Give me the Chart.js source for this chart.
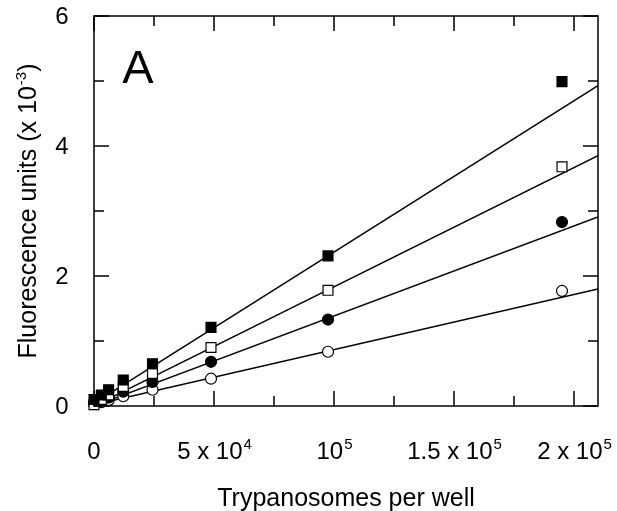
<!DOCTYPE html>
<html>
<head>
<meta charset="utf-8">
<script src="https://cdn.jsdelivr.net/npm/chart.js@4/dist/chart.umd.min.js"></script>
<style>
  html, body { margin: 0; padding: 0; background: #fff; }
  #wrap { width: 617px; height: 511px; }
</style>
</head>
<body>
<div id="wrap"><canvas id="c" width="617" height="511"></canvas></div>
<script>
// ---- data ----
const xValues      = [0, 3047, 6094, 12188, 24375, 48750, 97500, 195000];
const filledSquare = [0.10, 0.17, 0.25, 0.40, 0.65, 1.21, 2.31, 4.99];
const openSquare   = [0.02, 0.10, 0.17, 0.30, 0.50, 0.90, 1.78, 3.68];
const filledCircle = [0.05, 0.08, 0.13, 0.22, 0.37, 0.68, 1.33, 2.83];
const openCircle   = [0.03, 0.06, 0.09, 0.15, 0.25, 0.42, 0.835, 1.77];

// fitted lines (end points)
const lineX            = [0, 210000];
const filledSquareLine = [0.04, 4.93];
const openSquareLine   = [0.00, 3.85];
const filledCircleLine = [0.00, 2.91];
const openCircleLine   = [0.02, 1.80];

// axes
const xTickValues  = [0, 25000, 50000, 75000, 100000, 125000, 150000, 175000, 200000];
const xMajorValues = [0, 50000, 100000, 150000, 200000];
const xLabelBase   = ['0', '5 x 10', '10', '1.5 x 10', '2 x 10'];
const xLabelSup    = ['', '4', '5', '5', '5'];
const yTickValues  = [0, 1, 2, 3, 4, 5, 6];
const yLabelValues = [0, 2, 4, 6];

const FONT = "'Liberation Sans', Arial, sans-serif";

function pts(xs, ys) { return xs.map((x, i) => ({ x: x, y: ys[i] })); }

function pointSet(label, ys, style, fill) {
  return {
    label: label, data: pts(xValues, ys), showLine: false,
    pointStyle: style, pointRadius: style === 'rect' ? 7 : 5.5,
    pointBackgroundColor: fill, pointBorderColor: '#000', pointBorderWidth: 1.2,
    clip: false, order: 1
  };
}
function lineSet(label, ys) {
  return {
    label: label, data: pts(lineX, ys), showLine: true, pointRadius: 0,
    borderColor: '#000', borderWidth: 1.5, fill: false, order: 2
  };
}

const framePlugin = {
  id: 'frame',
  afterDatasetsDraw(chart) {
    const ctx = chart.ctx, a = chart.chartArea;
    const xs = chart.scales.x, ys = chart.scales.y;
    ctx.save();
    ctx.strokeStyle = '#000';
    ctx.lineWidth = 1.5;
    ctx.strokeRect(a.left, a.top, a.right - a.left, a.bottom - a.top);
    ctx.beginPath();
    xTickValues.forEach(v => {
      const px = xs.getPixelForValue(v);
      const len = xMajorValues.includes(v) ? 15 : 10;
      ctx.moveTo(px, a.bottom); ctx.lineTo(px, a.bottom - len);
      ctx.moveTo(px, a.top); ctx.lineTo(px, a.top + len);
    });
    yTickValues.forEach(v => {
      const py = ys.getPixelForValue(v);
      const len = yLabelValues.includes(v) ? 15 : 10;
      ctx.moveTo(a.left, py); ctx.lineTo(a.left + len, py);
      ctx.moveTo(a.right, py); ctx.lineTo(a.right - len, py);
    });
    ctx.stroke();

    ctx.fillStyle = '#000';

    // y tick labels
    ctx.font = '24px ' + FONT;
    ctx.textAlign = 'center';
    ctx.textBaseline = 'middle';
    yLabelValues.forEach(v => {
      ctx.fillText(String(v), 62, ys.getPixelForValue(v) + 1);
    });

    // x tick labels with superscripts
    ctx.textBaseline = 'alphabetic';
    ctx.textAlign = 'left';
    xMajorValues.forEach((v, i) => {
      const px = xs.getPixelForValue(v);
      ctx.font = '24px ' + FONT;
      const wb = ctx.measureText(xLabelBase[i]).width;
      ctx.font = '15px ' + FONT;
      const ws = xLabelSup[i] ? ctx.measureText(xLabelSup[i]).width : 0;
      const x0 = px - (wb + ws) / 2;
      const base = 459;
      ctx.font = '24px ' + FONT;
      ctx.fillText(xLabelBase[i], x0, base);
      if (xLabelSup[i]) {
        ctx.font = '15px ' + FONT;
        ctx.fillText(xLabelSup[i], x0 + wb + 1, base - 10);
      }
    });

    // x title
    ctx.font = '25px ' + FONT;
    ctx.textAlign = 'center';
    ctx.fillText('Trypanosomes per well', (a.left + a.right) / 2, 506);

    // y title (rotated) with superscript
    ctx.save();
    ctx.translate(36, (a.top + a.bottom) / 2);
    ctx.rotate(-Math.PI / 2);
    const p1 = 'Fluorescence units (x 10', p2 = '-3', p3 = ')';
    ctx.font = '25px ' + FONT;
    const w1 = ctx.measureText(p1).width, w3 = ctx.measureText(p3).width;
    ctx.font = '15px ' + FONT;
    const w2 = ctx.measureText(p2).width;
    let sx = -(w1 + w2 + w3 + 1) / 2;
    ctx.textAlign = 'left';
    ctx.font = '25px ' + FONT;
    ctx.fillText(p1, sx, 0);
    ctx.font = '15px ' + FONT;
    ctx.fillText(p2, sx + w1 + 1, -10);
    ctx.font = '25px ' + FONT;
    ctx.fillText(p3, sx + w1 + w2 + 1, 0);
    ctx.restore();

    // panel letter
    ctx.font = '47px ' + FONT;
    ctx.textAlign = 'center';
    ctx.fillText('A', 138, 83);
    ctx.restore();
  }
};

new Chart(document.getElementById('c'), {
  type: 'scatter',
  data: {
    datasets: [
      lineSet('fit filled square', filledSquareLine),
      lineSet('fit open square', openSquareLine),
      lineSet('fit filled circle', filledCircleLine),
      lineSet('fit open circle', openCircleLine),
      pointSet('filled square', filledSquare, 'rect', '#000'),
      pointSet('open square', openSquare, 'rect', '#fff'),
      pointSet('filled circle', filledCircle, 'circle', '#000'),
      pointSet('open circle', openCircle, 'circle', '#fff')
    ]
  },
  options: {
    responsive: false,
    animation: false,
    layout: { padding: { left: 0, right: 19, top: 16, bottom: 0 } },
    plugins: { legend: { display: false }, tooltip: { enabled: false } },
    scales: {
      x: {
        type: 'linear', min: 0, max: 210000,
        grid: { display: false }, border: { display: false },
        ticks: { display: false },
        afterFit(s) { s.height = 105; }
      },
      y: {
        type: 'linear', min: 0, max: 6,
        grid: { display: false }, border: { display: false },
        ticks: { display: false },
        afterFit(s) { s.width = 94; }
      }
    }
  },
  plugins: [framePlugin]
});
</script>
</body>
</html>
